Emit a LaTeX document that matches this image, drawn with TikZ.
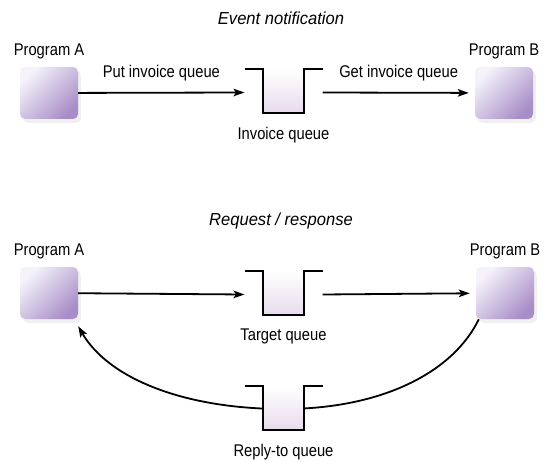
\documentclass[tikz,border=0pt]{standalone}
\usepackage{fontspec}
\setmainfont{Liberation Sans}[FakeStretch=0.87]
\newfontfamily\titlefont{Liberation Sans}[FakeStretch=0.95]
\usetikzlibrary{arrows.meta, positioning, shadows, backgrounds}

\definecolor{boxlight}{RGB}{245,242,250}
\definecolor{boxmid}{RGB}{206,192,226}
\definecolor{boxdark}{RGB}{168,142,200}
\definecolor{cupfill}{RGB}{231,219,236}

\begin{document}
\begin{tikzpicture}[x=1bp, y=-1bp, font=\fontsize{17}{20}\selectfont,
  >={Stealth[length=11bp, width=7.5bp, inset=2.5bp]}]

\tikzstyle{prog}=[draw=none, rounded corners=5bp, minimum width=58bp, minimum height=52bp, inner sep=0,
  top color=boxlight, middle color=boxmid, bottom color=boxdark, shading angle=45,
  drop shadow={opacity=0.12, shadow xshift=3bp, shadow yshift=-4bp}]
\tikzstyle{lbl}=[inner sep=0]
\tikzstyle{title}=[inner sep=0, anchor=base, font=\fontsize{17.5}{20}\titlefont\itshape]
\tikzstyle{flow}=[line width=1.8bp, ->]
\tikzset{queue/.pic={
  \shade[top color=white, bottom color=cupfill] (-20.5,0) rectangle (20.5,44);
  \draw[line width=1.8bp] (-39,0) -- (-20.5,0) -- (-20.5,44) -- (20.5,44) -- (20.5,0) -- (39,0);
  \coordinate (-in) at (-39,23.5);
  \coordinate (-out) at (39,23.5);
  \coordinate (-mid) at (0,23);
}}

\useasboundingbox (0,0) rectangle (547,462);

% event notification
\node[title] (t1) at (281,25) {Event notification};
\node[prog] (a1) at (49,93) {};
\node[prog] (b1) at (504,93) {};
\node[lbl, above=7.5bp of a1] (la1) {Program A};
\node[lbl, above=7.5bp of b1] (lb1) {Program B};
\pic (q1) at (283.5,69) {queue};
\node[lbl, below=35bp of q1-mid] (lq1) {Invoice queue};

\draw[flow] (a1) -- node[lbl, above=11bp] {Put invoice queue} (q1-in);
\draw[flow, shorten >=6bp] (q1-out) -- node[lbl, above=11bp] {Get invoice queue} (b1);

% request / response
\node[title] (t2) at (281,226) {Request / response};
\node[prog] (a2) at (49,293) {};
\node[prog] (b2) at (505,293) {};
\node[lbl, above=7.5bp of a2] (la2) {Program A};
\node[lbl, above=7.5bp of b2] (lb2) {Program B};
\pic (q2) at (283.5,271) {queue};
\node[lbl, below=35bp of q2-mid] (lq2) {Target queue};
\pic (q3) at (283.5,386) {queue};
\node[lbl, below=35bp of q3-mid] (lq3) {Reply-to queue};

\draw[flow] (a2) -- (q2-in);
\draw[flow, shorten >=6bp] (q2-out) -- (b2);

\begin{scope}[on background layer]
\draw[flow] ([xshift=3bp]b2.south west) .. controls +(-25,52) and +(100,0) .. (q3-mid)
  .. controls +(-100,0) and +(30,52) .. ([yshift=-7bp]a2.south east);
\end{scope}

\end{tikzpicture}
\end{document}
